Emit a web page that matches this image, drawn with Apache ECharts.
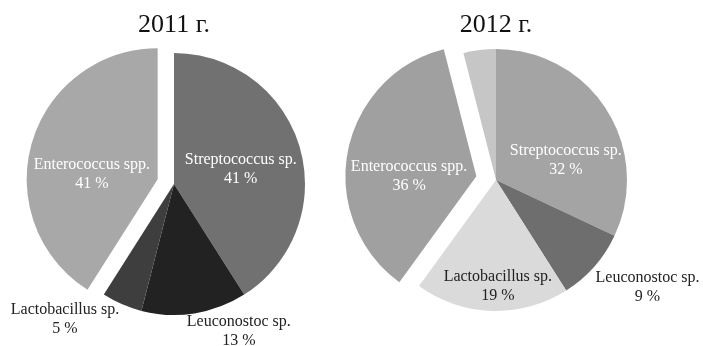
<!DOCTYPE html>
<html>
<head>
<meta charset="utf-8">
<script src="https://cdn.jsdelivr.net/npm/echarts@6/dist/echarts.min.js"></script>
<style>
  html, body { margin: 0; padding: 0; background: #ffffff; }
  #chart { width: 703px; height: 346px; }
</style>
</head>
<body>
<div id="chart"></div>
<script>
// Species composition by year (percent)
const yearTitles = ['2011 г.', '2012 г.'];

const names2011 = ['Streptococcus sp.', 'Leuconostoc sp.', 'Lactobacillus sp.', 'Enterococcus spp.'];
const values2011 = [41, 13, 5, 41];

const names2012 = ['Streptococcus sp.', 'Leuconostoc sp.', 'Lactobacillus sp.', 'Enterococcus spp.', ''];
const values2012 = [32, 9, 19, 36, 4];

// Enterococcus slice is pulled out of each pie
const pulledName = 'Enterococcus spp.';

// ---- styling ----
const FONT = '"Liberation Serif", "Times New Roman", serif';

const style2011 = {
  colors: ['#717171', '#222222', '#3e3e3e', '#a8a8a8'],
  inside: [true, false, false, true],
  textColor: ['#ffffff', '#222222', '#222222', '#ffffff'],
  shift: [[1, 4], [42, 3], [-51, 1], [0, 14]]
};
const style2012 = {
  colors: ['#a4a4a4', '#6e6e6e', '#dadada', '#a0a0a0', '#c6c6c6'],
  inside: [true, false, true, true, true],
  textColor: ['#ffffff', '#222222', '#222222', '#ffffff', '#ffffff'],
  shift: [[12, 17], [42, 11], [4, 38], [0, 13], [0, 0]]
};

function buildData(names, values, st) {
  return values.map(function (v, i) {
    return {
      name: names[i],
      value: v,
      selected: names[i] === pulledName,
      itemStyle: { color: st.colors[i] },
      label: {
        show: names[i] !== '',
        position: st.inside[i] ? 'inside' : 'outside',
        color: st.textColor[i]
      }
    };
  });
}

function buildSeries(names, values, st, center, offset) {
  return {
    type: 'pie',
    center: center,
    radius: 131,
    startAngle: 90,
    clockwise: true,
    selectedMode: 'multiple',
    selectedOffset: offset,
    avoidLabelOverlap: false,
    animation: false,
    silent: true,
    label: {
      formatter: '{b}\n{c} %',
      fontFamily: FONT,
      fontSize: 16,
      lineHeight: 19,
      align: 'center',
      distanceToLabelLine: 0
    },
    labelLine: { show: false, length: 15, length2: 0 },
    labelLayout: function (p) {
      const s = st.shift[p.dataIndex];
      return { align: 'center', verticalAlign: 'middle', dx: s[0], dy: s[1] };
    },
    itemStyle: { borderWidth: 0 },
    emphasis: { disabled: true },
    data: buildData(names, values, st)
  };
}

const chart = echarts.init(document.getElementById('chart'), null, { renderer: 'canvas' });

chart.setOption({
  backgroundColor: '#ffffff',
  animation: false,
  title: [
    {
      text: yearTitles[0], left: 174, top: 12, textAlign: 'center', padding: 0,
      textStyle: { fontFamily: FONT, fontSize: 26, fontWeight: 'normal', color: '#111111' }
    },
    {
      text: yearTitles[1], left: 496, top: 12, textAlign: 'center', padding: 0,
      textStyle: { fontFamily: FONT, fontSize: 26, fontWeight: 'normal', color: '#111111' }
    }
  ],
  series: [
    buildSeries(names2011, values2011, style2011, [174, 184], 17),
    buildSeries(names2012, values2012, style2012, [496, 180], 20)
  ]
});
</script>
</body>
</html>
